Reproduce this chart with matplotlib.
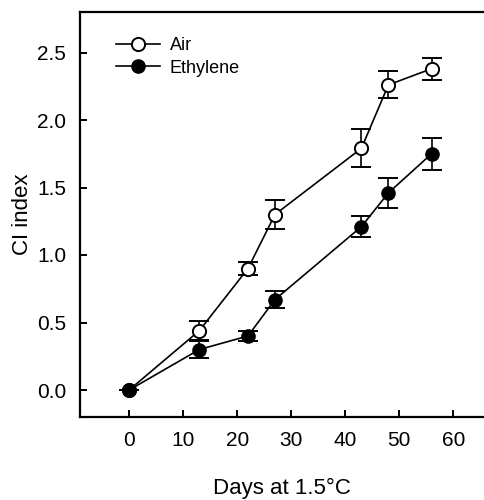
import matplotlib
matplotlib.use("Agg")
import matplotlib.pyplot as plt

# storage days at 1.5 C
days = [0, 13, 22, 27, 43, 48, 56]
air = [0.0, 0.44, 0.90, 1.30, 1.79, 2.26, 2.38]
air_err = [0.0, 0.07, 0.05, 0.11, 0.14, 0.10, 0.08]
eth = [0.0, 0.30, 0.40, 0.67, 1.21, 1.46, 1.75]
eth_err = [0.0, 0.06, 0.04, 0.06, 0.08, 0.11, 0.12]

xticks = [0, 10, 20, 30, 40, 50, 60]
yticks = [0.0, 0.5, 1.0, 1.5, 2.0, 2.5]

plt.rcParams['font.family'] = ['Liberation Sans', 'DejaVu Sans']

fig = plt.figure(figsize=(4.84, 5.0), dpi=100)
ax = fig.add_axes([80/484, 83/500, 404/484, 405/500])

ax.errorbar(days, air, yerr=air_err, fmt='-o', color='k', mfc='white', mec='k',
            mew=1.4, ms=9.5, lw=1.2, capsize=7, elinewidth=1.2, capthick=1.4,
            label='Air', zorder=3)
ax.errorbar(days, eth, yerr=eth_err, fmt='-o', color='k', mfc='k', mec='k',
            ms=9.5, lw=1.2, capsize=7, elinewidth=1.2, capthick=1.4,
            label='Ethylene', zorder=3)

ax.set_xlim(-9.1, 65.7)
ax.set_ylim(-0.2, 2.8)
ax.set_xticks(xticks)
ax.set_yticks(yticks)
ax.set_yticklabels(['%.1f' % v for v in yticks])
ax.tick_params(direction='in', length=5, width=1.4, labelsize=15, pad=10)
for s in ax.spines.values():
    s.set_linewidth(1.6)
ax.spines['right'].set_visible(False)

ax.set_xlabel('Days at 1.5°C', fontsize=16, labelpad=20)
ax.set_ylabel('CI index', fontsize=16, labelpad=3)

handles, labels = ax.get_legend_handles_labels()
handles = [h[0] for h in handles]
ax.legend(handles, labels, loc='upper left', bbox_to_anchor=(0.068, 0.96),
          frameon=False, fontsize=13, handlelength=2.4, handletextpad=0.55,
          labelspacing=0.3, borderpad=0)

fig.savefig('out.png', dpi=100)
